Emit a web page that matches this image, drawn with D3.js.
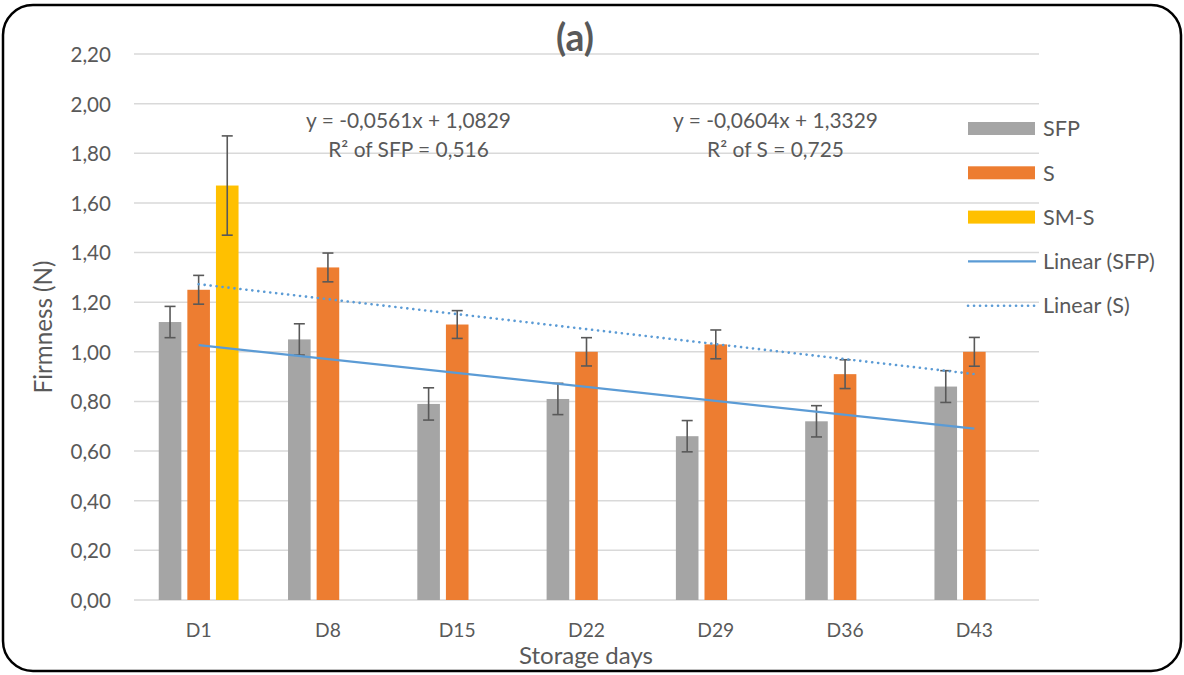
<!DOCTYPE html>
<html><head><meta charset="utf-8">
<script src="https://cdn.jsdelivr.net/npm/d3@7/dist/d3.min.js"></script>
<style>body{margin:0;background:#fff;} svg{display:block;font-family:Lato,"Open Sans",sans-serif;}</style>
</head><body>
<svg id="chart" width="1184" height="675"></svg>
<script>
const categories = ["D1","D8","D15","D22","D29","D36","D43"];
const seriesNames = ["SFP","S","SM-S"];
const sfpValues = [1.12,1.05,0.79,0.81,0.66,0.72,0.86];
const sfpErrors = [0.063,0.063,0.065,0.063,0.063,0.063,0.064];
const sValues = [1.25,1.34,1.11,1.00,1.03,0.91,1.00];
const sErrors = [0.058,0.058,0.056,0.057,0.058,0.058,0.058];
const smsValues = [1.67,null,null,null,null,null,null];
const smsErrors = [0.20,null,null,null,null,null,null];
const yTicks = [0,0.2,0.4,0.6,0.8,1.0,1.2,1.4,1.6,1.8,2.0,2.2];
const trendSFP = {slope:-0.0561, intercept:1.0829};
const trendS = {slope:-0.0604, intercept:1.3329};
const eqLabels = [["y = -0,0561x + 1,0829","R² of SFP = 0,516"],["y = -0,0604x + 1,3329","R² of S = 0,725"]];
const legendItems = ["SFP","S","SM-S","Linear (SFP)","Linear (S)"];

const colors = {"SFP":"#a5a5a5","S":"#ed7d31","SM-S":"#ffc000"};
const trendColor = "#5b9bd5";
const textColor = "#595959";

const svg = d3.select("#chart");
const mLeft = 134, mRight = 1039, mTop = 54, mBottom = 600;

// scale a text's font so its width matches the width measured on the reference
function fitWidth(sel, target){
  const base = 20;
  sel.style("font-size", base+"px");
  const w = sel.node().getComputedTextLength();
  const fs = base*target/w;
  sel.style("font-size", fs+"px");
  return fs;
}

svg.append("rect").attr("x",3).attr("y",5).attr("width",1178).attr("height",666)
  .attr("rx",30).attr("ry",30).attr("fill","#fff").attr("stroke","#000").attr("stroke-width",2.5);

const x = d3.scaleBand().domain(categories).range([mLeft,mRight]).paddingInner(0).paddingOuter(0);
const xs = d3.scaleBand().domain(seriesNames).range([-42.9,42.9]).paddingInner(0.21).paddingOuter(0.105);
const y = d3.scaleLinear().domain([0,2.2]).range([mBottom,mTop]);
const fmt = v => d3.format(".2f")(v).replace(".",",");

// gridlines
svg.append("g").selectAll("line").data(yTicks).join("line")
  .attr("x1",mLeft).attr("x2",mRight).attr("y1",d=>y(d)).attr("y2",d=>y(d))
  .attr("stroke","#d9d9d9").attr("stroke-width",1.5);

// y axis labels
const yAxis = d3.axisLeft(y).tickValues(yTicks).tickFormat(fmt).tickSize(0).tickPadding(0);
const yg = svg.append("g").attr("transform",`translate(111,0)`).call(yAxis);
yg.select(".domain").remove();
yg.selectAll("text").attr("fill",textColor).style("font-family","Lato,'Open Sans',sans-serif").attr("dy","0.36em");
const yfs = fitWidth(yg.selectAll("text").filter(d=>d===2.2), 40.5);
yg.selectAll("text").style("font-size", yfs+"px");

// x axis labels
const xAxis = d3.axisBottom(x).tickSize(0).tickPadding(0);
const xg = svg.append("g").attr("transform",`translate(0,${mBottom+30})`).call(xAxis);
xg.select(".domain").remove();
xg.selectAll("text").attr("fill",textColor).style("font-family","Lato,'Open Sans',sans-serif").attr("dy","0.36em");
const xfs = fitWidth(xg.selectAll("text").filter(d=>d==="D22"), 37);
xg.selectAll("text").style("font-size", xfs+"px");

const seriesData = [
  {name:"SFP", values:sfpValues, errors:sfpErrors},
  {name:"S", values:sValues, errors:sErrors},
  {name:"SM-S", values:smsValues, errors:smsErrors}
];
const flat = [];
seriesData.forEach(s => s.values.forEach((v,i) => { if (v!=null) flat.push({series:s.name, cat:categories[i], v, e:s.errors[i]}); }));

svg.append("g").selectAll("rect").data(flat).join("rect")
  .attr("x",d=>x(d.cat)+x.bandwidth()/2+xs(d.series))
  .attr("width",xs.bandwidth())
  .attr("y",d=>y(d.v)).attr("height",d=>y(0)-y(d.v))
  .attr("fill",d=>colors[d.series]);

// error bars
const eg = svg.append("g").attr("stroke","#595959").attr("stroke-width",1.6);
flat.forEach(d => {
  const cx = x(d.cat)+x.bandwidth()/2+xs(d.series)+xs.bandwidth()/2;
  eg.append("line").attr("x1",cx).attr("x2",cx).attr("y1",y(d.v+d.e)).attr("y2",y(d.v-d.e));
  [d.v+d.e,d.v-d.e].forEach(t => eg.append("line").attr("x1",cx-5.5).attr("x2",cx+5.5).attr("y1",y(t)).attr("y2",y(t)));
});

// trendlines
const cx0 = x(categories[0])+x.bandwidth()/2, cx1 = x(categories[categories.length-1])+x.bandwidth()/2;
const n = categories.length;
function trendLine(t, dash){
  const l = svg.append("line").attr("x1",cx0).attr("x2",cx1)
    .attr("y1",y(t.slope*1+t.intercept)).attr("y2",y(t.slope*n+t.intercept))
    .attr("stroke",trendColor).attr("stroke-width",2.25);
  if (dash) l.attr("stroke-dasharray","0.1 5.9").attr("stroke-linecap","round").attr("stroke-width",2.6);
}
trendLine(trendSFP,false);
trendLine(trendS,true);

// equation labels
let eqfs = null;
[408.5,775.5].forEach((px,i)=>{
  const t1 = svg.append("text").attr("x",px).attr("y",128).attr("text-anchor","middle")
    .attr("fill",textColor).text(eqLabels[i][0]);
  if (eqfs===null) eqfs = fitWidth(t1, 205); else t1.style("font-size",eqfs+"px");
  svg.append("text").attr("x",px).attr("y",157).attr("text-anchor","middle")
    .attr("fill",textColor).style("font-size",eqfs+"px").text(eqLabels[i][1]);
});

// title
const title = svg.append("text").attr("x",575).attr("y",51).attr("text-anchor","middle")
  .attr("fill",textColor).style("font-weight","bold").text("(a)");
fitWidth(title, 38);

// axis titles
const yt = svg.append("text").attr("transform","translate(52,327) rotate(-90)").attr("text-anchor","middle")
  .attr("fill",textColor).text("Firmness (N)");
fitWidth(yt, 133);
const xt = svg.append("text").attr("x",586).attr("y",664).attr("text-anchor","middle")
  .attr("fill",textColor).text("Storage days");
fitWidth(xt, 134);

// legend
const lg = svg.append("g");
legendItems.forEach((name,i)=>{
  const cy = 128.5 + i*44.3;
  if (i<3) {
    lg.append("rect").attr("x",968).attr("y",cy-6.5).attr("width",67).attr("height",13).attr("fill",colors[name]);
  } else {
    const l = lg.append("line").attr("x1",968).attr("x2",1036).attr("y1",cy).attr("y2",cy)
      .attr("stroke",trendColor).attr("stroke-width",2.25);
    if (i===4) l.attr("stroke-dasharray","0.1 5.9").attr("stroke-linecap","round").attr("stroke-width",2.6);
  }
  lg.append("text").attr("x",1043).attr("y",cy).attr("dy","0.36em")
    .attr("fill",textColor).text(name);
});
const lt = lg.selectAll("text").filter(function(){return d3.select(this).text()==="Linear (SFP)";});
const lfs = fitWidth(lt, 112);
lg.selectAll("text").style("font-size", lfs+"px");
</script>
</body></html>
